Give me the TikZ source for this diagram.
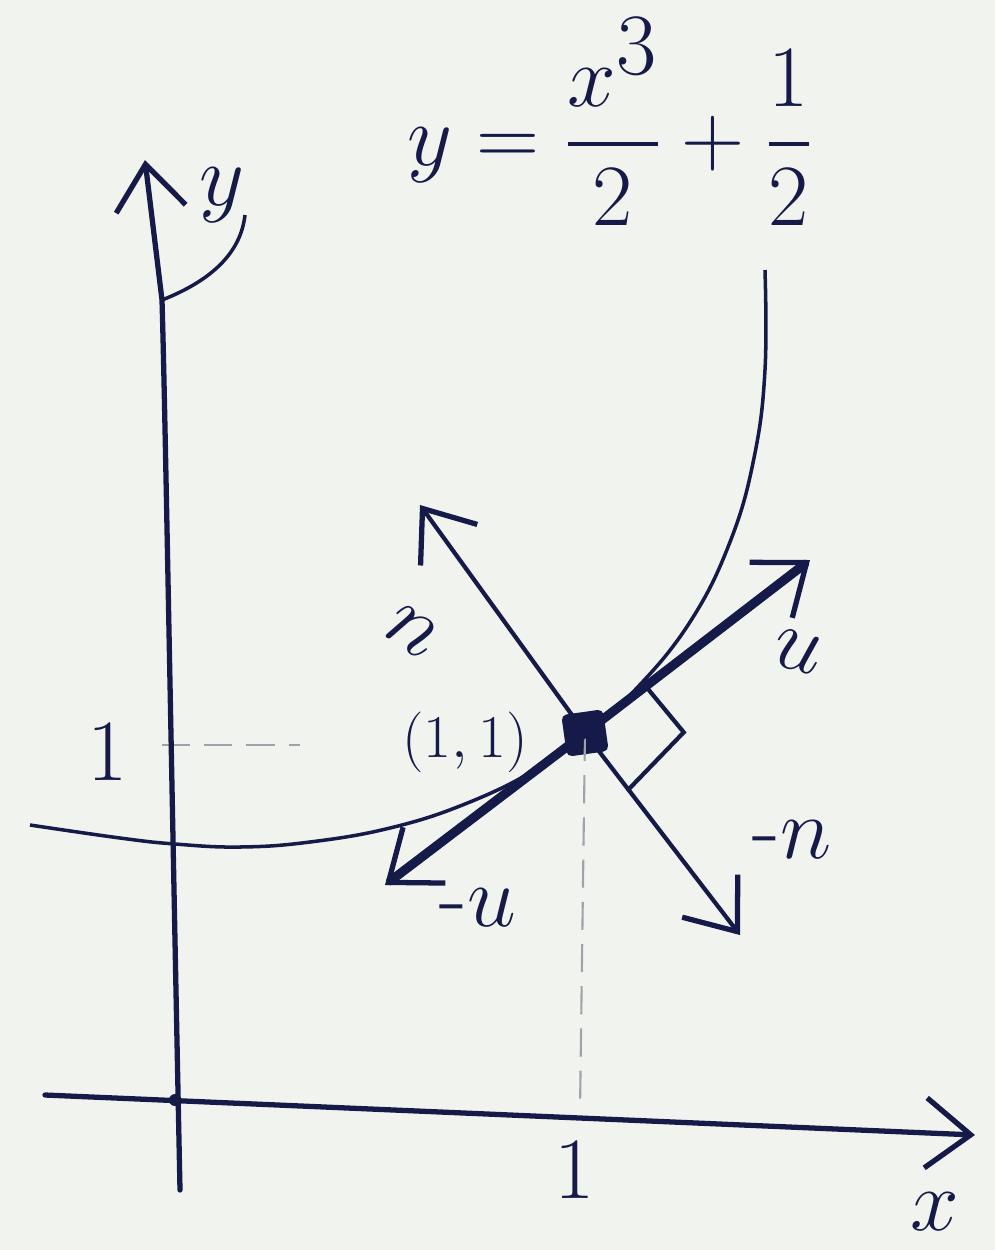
\documentclass[tikz,border=0pt]{standalone}
\usepackage{amsmath}
\usetikzlibrary{arrows.meta,calc}
\definecolor{ink}{RGB}{22,26,72}
\definecolor{paper}{RGB}{241,244,238}
\definecolor{faint}{RGB}{160,162,170}
\tikzset{
  ax/.style={draw=ink,line width=1.5pt,line cap=round},
  tip/.style={-{Straight Barb[length=4.5mm,width=7mm,line width=1.5pt]}},
  tang/.style={draw=ink,line width=2.6pt,line cap=round},
  norm/.style={draw=ink,line width=1.2pt,line cap=round},
  crv/.style={draw=ink,line width=1.0pt},
  guide/.style={draw=faint,line width=0.6pt,dash pattern=on 8pt off 4pt},
  lab/.style={text=ink,font=\fontsize{26}{30}\selectfont},
}
\begin{document}
\begin{tikzpicture}[x=0.01cm,y=-0.01cm]
\fill[paper] (0,0) rectangle (995,1250);
\useasboundingbox (0,0) rectangle (995,1250);
% coordinates
\coordinate (ybot) at (180,1190);
\coordinate (ymid) at (162,300);
\coordinate (ytop) at (145,160);
\coordinate (xleft) at (45,1095);
\coordinate (xright) at (975,1135);
\coordinate (O) at (175,1100);
\coordinate (X1) at (580,1112);
\coordinate (Y1) at (162,745);
\coordinate (Y1e) at (300,745);
\node[fill=ink,minimum size=4.2mm,inner sep=0pt,rounded corners=1.5pt,rotate=8] (P) at (585,733) {};
\coordinate (U) at (810,560);
\coordinate (MU) at (385,885);
\coordinate (N) at (420,505);
\coordinate (MN) at (740,935);
% guides
\draw[guide] (P.center) -- (X1);
\draw[guide] (Y1) -- (Y1e);
% axes
\draw[ax,tip] (ybot) .. controls (170,700) and (165,400) .. (ymid) -- (ytop);
\draw[ax,tip] (xleft) -- (xright);
\fill[ink] (O) circle (6);
% curve
\draw[crv] plot[smooth,tension=0.7] coordinates {(30,825) (120,838) (175,844) (240,847) (310,842) (390,828) (465,804) (535,770) (585,733) (635,690) (690,622) (730,542) (754,458) (765,370) (765,270)};
% tangent and normal
\draw[tang,tip] (P.center) -- (U);
\draw[tang,tip] (P.center) -- (MU);
\draw[norm,tip] (P.center) -- (N);
\draw[norm,tip] (P.center) -- (MN);
% right angle
\draw[norm] ($(P.center)!0.27!(U)$) coordinate (ra1) -- ++(38,46) coordinate (ra2) -- ($(P.center)!0.28!(MN)$);
% labels
\node[lab,font=\fontsize{42}{48}\selectfont] (eq) at (610,122) {$y=\dfrac{x^3}{2}+\dfrac{1}{2}$};
\node[lab,font=\fontsize{36}{40}\selectfont] (ylab) at (222,195) {$y$};
\draw[ink,line width=1.0pt] (245,215) .. controls (240,260) and (200,285) .. (ymid);
\node[lab,font=\fontsize{34}{40}\selectfont] (xlab) at (935,1212) {$x$};
\node[lab] (one1) at (108,752) {$1$};
\node[lab] (one2) at (575,1170) {$1$};
\node[lab,rotate=-35] (nlab) at (412,632) {$n$};
\node[lab,rotate=-15] (ulab) at (798,652) {$u$};
\node[lab] (mnlab) at (792,840) {$\text{-}n$};
\node[lab] (mulab) at (478,908) {$\text{-}u$};
\node[text=ink,font=\fontsize{18}{22}\selectfont,anchor=east] (plab) at (540,742) {$(1,1)$};
\end{tikzpicture}
\end{document}
